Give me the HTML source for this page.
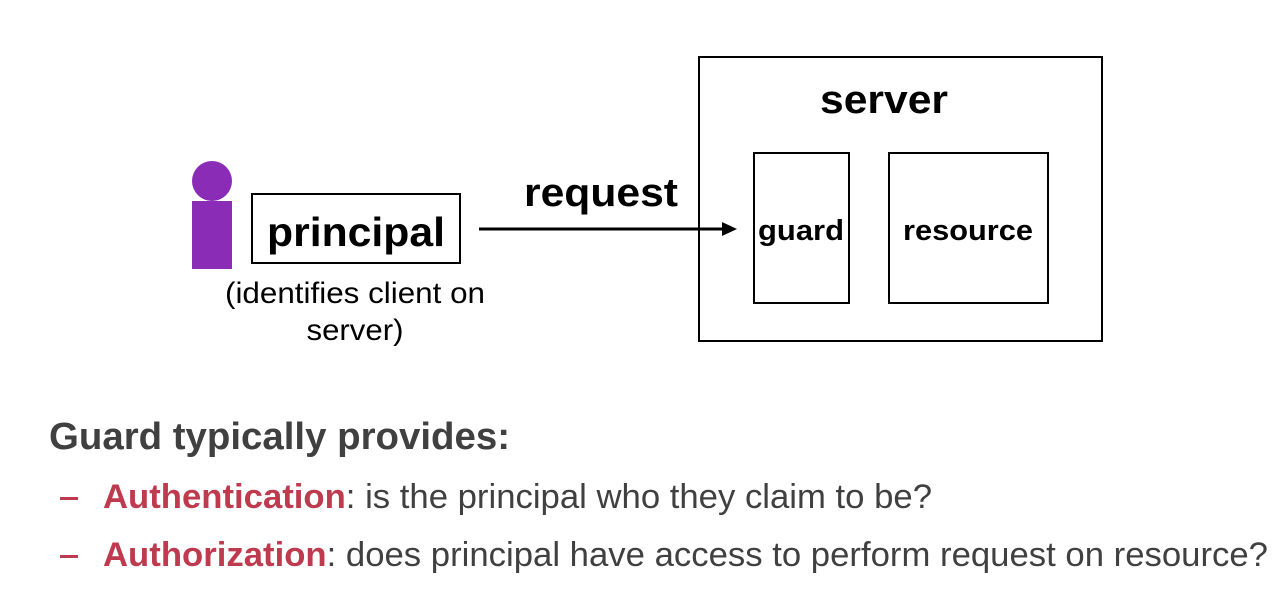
<!DOCTYPE html>
<html><head><meta charset="utf-8"><style>
html,body{margin:0;padding:0;background:#fff;width:1286px;height:594px;overflow:hidden}
svg{display:block}
text{font-family:"Liberation Sans",Arial,sans-serif}
</style></head><body>
<svg width="1286" height="594" viewBox="0 0 1286 594" xmlns="http://www.w3.org/2000/svg">
<circle cx="212" cy="181" r="20" fill="#8a2cb6"/>
<rect x="192" y="201" width="40" height="68" fill="#8a2cb6"/>
<rect x="252" y="194" width="208" height="69" fill="none" stroke="#000" stroke-width="2"/>
<text x="356" y="246" font-size="41" font-weight="bold" text-anchor="middle" textLength="178" lengthAdjust="spacingAndGlyphs">principal</text>
<text x="355" y="303" font-size="30" text-anchor="middle" textLength="260" lengthAdjust="spacingAndGlyphs">(identifies client on</text>
<text x="355" y="340" font-size="30" text-anchor="middle" textLength="97" lengthAdjust="spacingAndGlyphs">server)</text>
<line x1="479" y1="229" x2="724" y2="229" stroke="#000" stroke-width="3"/>
<polygon points="737,229 722,222 722,236" fill="#000"/>
<text x="601" y="206" font-size="40" font-weight="bold" text-anchor="middle" textLength="154" lengthAdjust="spacingAndGlyphs">request</text>
<rect x="699" y="57" width="403" height="284" fill="none" stroke="#000" stroke-width="2"/>
<text x="884" y="113" font-size="40" font-weight="bold" text-anchor="middle" textLength="128" lengthAdjust="spacingAndGlyphs">server</text>
<rect x="754" y="153" width="95" height="150" fill="none" stroke="#000" stroke-width="2"/>
<text x="801" y="240" font-size="29" font-weight="bold" text-anchor="middle" textLength="86" lengthAdjust="spacingAndGlyphs">guard</text>
<rect x="889" y="153" width="159" height="150" fill="none" stroke="#000" stroke-width="2"/>
<text x="968" y="240" font-size="29" font-weight="bold" text-anchor="middle" textLength="130" lengthAdjust="spacingAndGlyphs">resource</text>
<text x="49" y="449" font-size="38" font-weight="bold" fill="#404040" textLength="461" lengthAdjust="spacingAndGlyphs">Guard typically provides:</text>
<rect x="60" y="497" width="18" height="3" fill="#be3a4e"/>
<text x="103" y="508" font-size="34" fill="#404040" textLength="829" lengthAdjust="spacingAndGlyphs"><tspan font-weight="bold" fill="#be3a4e">Authentication</tspan>: is the principal who they claim to be?</text>
<rect x="60" y="555" width="18" height="3" fill="#be3a4e"/>
<text x="103" y="566" font-size="34" fill="#404040" textLength="1165" lengthAdjust="spacingAndGlyphs"><tspan font-weight="bold" fill="#be3a4e">Authorization</tspan>: does principal have access to perform request on resource?</text>
</svg>
</body></html>
